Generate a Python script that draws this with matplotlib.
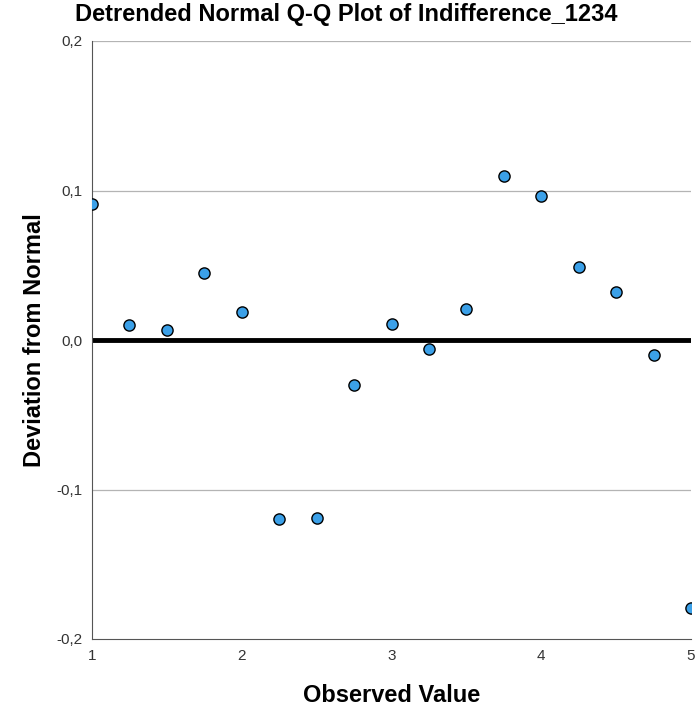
import numpy as np
import matplotlib.pyplot as plt

observed = [1.0, 1.25, 1.5, 1.75, 2.0, 2.25, 2.5, 2.75, 3.0, 3.25, 3.5, 3.75, 4.0, 4.25, 4.5, 4.75, 5.0]
deviation = [0.091, 0.010, 0.007, 0.045, 0.019, -0.120, -0.119, -0.030, 0.011, -0.006,
             0.021, 0.110, 0.096, 0.049, 0.032, -0.010, -0.179]

yticks = [-0.2, -0.1, 0.0, 0.1, 0.2]
ylabels = ['-0,2', '-0,1', '0,0', '0,1', '0,2']
xticks = [1, 2, 3, 4, 5]

plt.rcParams['font.family'] = ['Liberation Sans', 'DejaVu Sans']

fig = plt.figure(figsize=(6.96, 7.11), dpi=100)
ax = fig.add_axes([92/696, 1 - 639/711, 599/696, 598/711])

for y in [-0.1, 0.1, 0.2]:
    ax.axhline(y, color='#b4b4b4', lw=0.9, zorder=1)
ax.axhline(0, color='black', lw=3.5, zorder=2)

ax.scatter(observed, deviation, s=65, color='#3ba0e8', edgecolor='black', linewidth=1.0, zorder=3)

ax.set_xlim(1, 5)
ax.set_ylim(-0.2, 0.2)
ax.set_xticks(xticks)
ax.set_xticklabels([str(x) for x in xticks])
ax.set_yticks(yticks)
ax.set_yticklabels(ylabels)
ax.tick_params(length=0, labelsize=11, colors='#333333', pad=7)

for s in ['top', 'right']:
    ax.spines[s].set_visible(False)
ax.spines['left'].set_color('#555555')
ax.spines['bottom'].set_color('#555555')

fig.text(0.497, 1 - 15/711, 'Detrended Normal Q-Q Plot of Indifference_1234',
         fontsize=17, fontweight='bold', ha='center', va='center')
ax.set_xlabel('Observed Value', fontsize=17, fontweight='bold', labelpad=15)
ax.set_ylabel('Deviation from Normal', fontsize=17, fontweight='bold', labelpad=7)

fig.savefig('out.png', dpi=100)
